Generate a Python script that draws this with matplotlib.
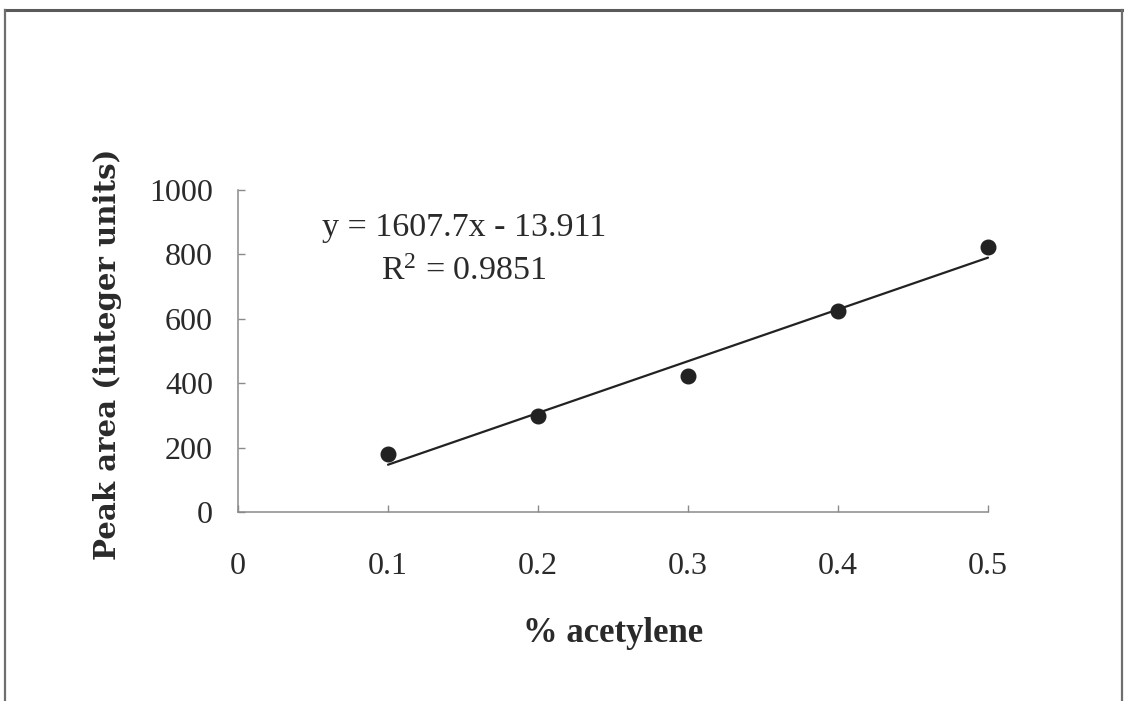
import matplotlib
matplotlib.use("Agg")
import matplotlib.pyplot as plt
from matplotlib.lines import Line2D

# Calibration data: acetylene concentration vs. integrated peak area
acetylene_pct = [0.1, 0.2, 0.3, 0.4, 0.5]
peak_area = [181, 297, 423, 623, 822]

# Linear trendline as reported on the chart
slope = 1607.7
intercept = -13.911
r_squared = 0.9851

x_ticks = [0, 0.1, 0.2, 0.3, 0.4, 0.5]
x_tick_labels = ["0", "0.1", "0.2", "0.3", "0.4", "0.5"]
y_ticks = [0, 200, 400, 600, 800, 1000]

serif = "Liberation Serif"
ink = "#222222"
text_col = "#2a2a2a"
axis_gray = "#8a8a8a"

fig = plt.figure(figsize=(11.3, 7.01), dpi=100)
fig.patch.set_facecolor("white")

ax = fig.add_axes([238 / 1130, 1 - 512 / 701, 750 / 1130, 322 / 701])
ax.set_xlim(0, 0.5)
ax.set_ylim(0, 1000)

# trendline drawn from the stated equation over the data range
x0, x1 = acetylene_pct[0], acetylene_pct[-1]
ax.plot([x0, x1], [slope * x0 + intercept, slope * x1 + intercept],
        color=ink, lw=1.6, solid_capstyle="round", clip_on=False, zorder=2)
ax.plot(acetylene_pct, peak_area, "o", color=ink, ms=10.5,
        clip_on=False, zorder=3)

for side in ("top", "right"):
    ax.spines[side].set_visible(False)
for side in ("left", "bottom"):
    ax.spines[side].set_color(axis_gray)
    ax.spines[side].set_linewidth(1.1)

ax.set_xticks(x_ticks)
ax.set_xticklabels(x_tick_labels)
ax.set_yticks(y_ticks)
ax.tick_params(axis="both", direction="in", length=5, width=1.0,
               color=axis_gray, labelcolor=text_col, labelsize=23)
ax.tick_params(axis="x", pad=29)
ax.tick_params(axis="y", pad=18)
for lab in ax.get_xticklabels() + ax.get_yticklabels():
    lab.set_family(serif)

ax.set_xlabel("% acetylene", family=serif, fontweight="bold",
              fontsize=25, color=text_col)
ax.xaxis.set_label_coords(0.5, -0.325)
ax.set_ylabel("Peak area (integer units)", family="DejaVu Serif",
              fontweight="bold", fontsize=21, color=text_col)
ax.yaxis.set_label_coords(-0.155, 0.49)

# trendline annotation
eq_x = 0.1507
ax.text(eq_x, 883, f"y = {slope}x - {abs(intercept)}", family=serif,
        fontsize=24.5, color=text_col, ha="center", va="center")
ax.text(eq_x, 745, f"$\\mathregular{{R^2}}$ = {r_squared}", family=serif,
        fontsize=24.5, color=text_col, ha="center", va="center")

# outer frame (top, left and right edges)
W, H = 1130, 701
frame_kw = dict(transform=fig.transFigure, color="#6e6e6e", lw=1.6)
fig.add_artist(Line2D([5 / W, 1122 / W], [1 - 10 / H, 1 - 10 / H], lw=2.2,
                      color="#5a5a5a", transform=fig.transFigure))
fig.add_artist(Line2D([5 / W, 5 / W], [0, 1 - 10 / H], **frame_kw))
fig.add_artist(Line2D([1122 / W, 1122 / W], [0, 1 - 10 / H], **frame_kw))

fig.savefig("out.png", dpi=100, facecolor="white")
